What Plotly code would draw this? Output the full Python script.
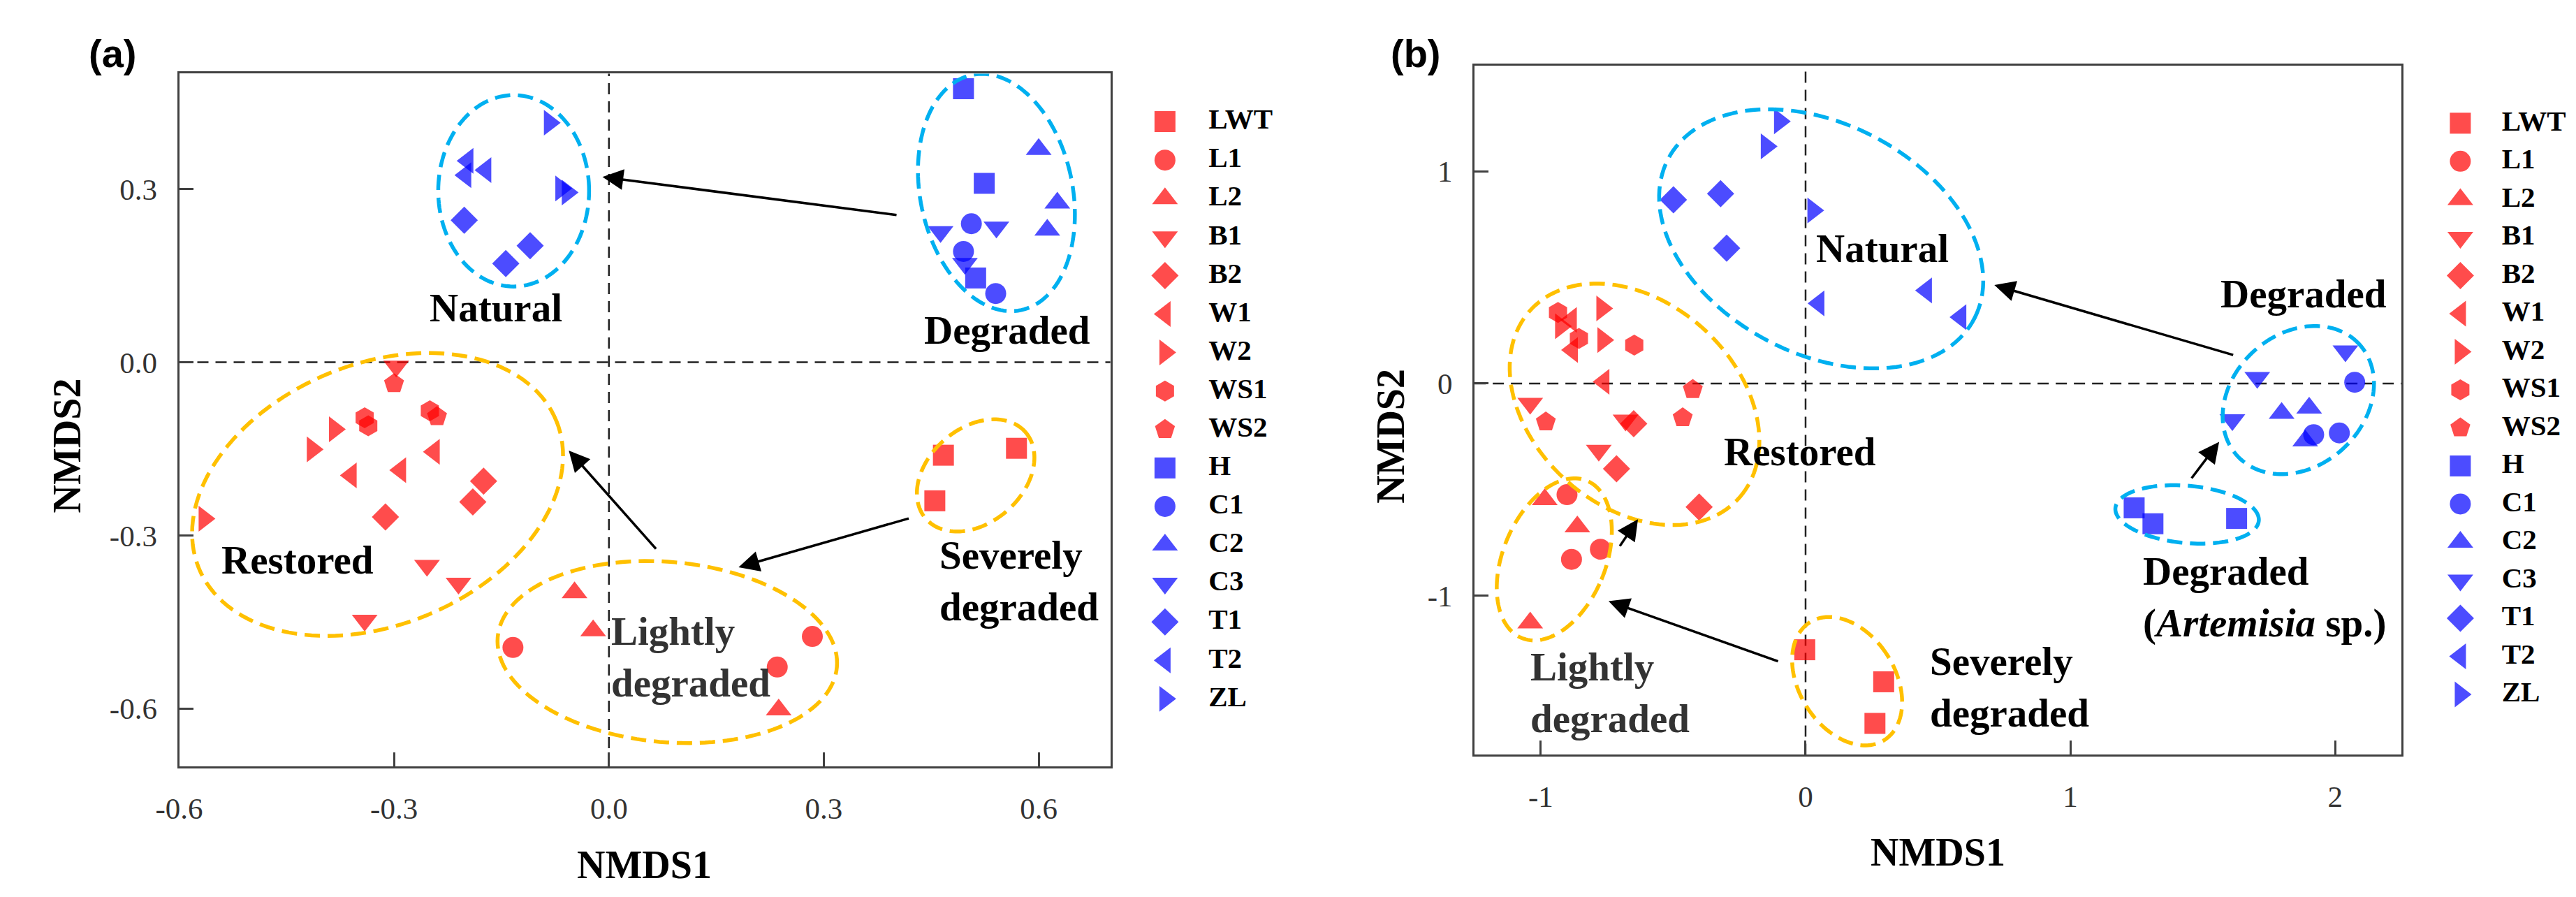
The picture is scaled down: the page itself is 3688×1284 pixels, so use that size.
import math
import plotly.graph_objects as go

W, H = 3688, 1284

# ---------------- categories / styling per category ----------------
SERIES = ["LWT", "L1", "L2", "B1", "B2", "W1", "W2", "WS1", "WS2",
          "H", "C1", "C2", "C3", "T1", "T2", "ZL"]
SYMBOLS = ["square", "circle", "triangle-up", "triangle-down", "diamond",
           "triangle-left", "triangle-right", "hexagon", "pentagon",
           "square", "circle", "triangle-up", "triangle-down", "diamond",
           "triangle-left", "triangle-right"]
COLORS = ["#ff0000"] * 9 + ["#0000ff"] * 7

# ---------------- panel (a) NMDS scores: [x list], [y list] ----------------
A_LWT = [[0.467, 0.569, 0.455], [-0.161, -0.149, -0.240]]
A_L1 = [[-0.134, 0.284, 0.235], [-0.494, -0.475, -0.528]]
A_L2 = [[-0.048, -0.022, 0.237], [-0.399, -0.465, -0.602]]
A_B1 = [[-0.297, -0.254, -0.210, -0.341], [-0.007, -0.352, -0.383, -0.447]]
A_B2 = [[-0.175, -0.190, -0.312], [-0.206, -0.242, -0.268]]
A_W1 = [[-0.360, -0.291, -0.244], [-0.196, -0.187, -0.155]]
A_W2 = [[-0.383, -0.414, -0.565], [-0.116, -0.151, -0.271]]
A_WS1 = [[-0.341, -0.336, -0.250], [-0.096, -0.110, -0.084]]
A_WS2 = [[-0.300, -0.240], [-0.037, -0.094]]
A_H = [[0.495, 0.524, 0.512], [0.474, 0.310, 0.146]]
A_C1 = [[0.506, 0.495, 0.540], [0.240, 0.192, 0.119]]
A_C2 = [[0.600, 0.626, 0.612], [0.369, 0.276, 0.229]]
A_C3 = [[0.463, 0.541, 0.497], [0.226, 0.234, 0.171]]
A_T1 = [[-0.202, -0.144, -0.110], [0.246, 0.171, 0.202]]
A_T2 = [[-0.197, -0.200, -0.172], [0.349, 0.324, 0.333]]
A_ZL = [[-0.083, -0.067, -0.058], [0.415, 0.301, 0.294]]

# ---------------- panel (b) NMDS scores ----------------
B_LWT = [[-0.003, 0.295, 0.262], [-1.255, -1.406, -1.602]]
B_L1 = [[-0.901, -0.775, -0.884], [-0.524, -0.781, -0.829]]
B_L2 = [[-0.985, -0.862, -1.040], [-0.547, -0.675, -1.128]]
B_B1 = [[-1.040, -0.680, -0.781], [-0.094, -0.173, -0.315]]
B_B2 = [[-0.649, -0.714, -0.402], [-0.189, -0.402, -0.582]]
B_W1 = [[-0.885, -0.881, -0.762], [0.300, 0.158, 0.008]]
B_W2 = [[-0.925, -0.765, -0.769], [0.270, 0.205, 0.354]]
B_WS1 = [[-0.935, -0.856, -0.647], [0.335, 0.212, 0.181]]
B_WS2 = [[-0.426, -0.981, -0.464], [-0.028, -0.181, -0.161]]
B_H = [[1.241, 1.312, 1.628], [-0.586, -0.661, -0.636]]
B_C1 = [[2.074, 1.919, 2.016], [0.006, -0.241, -0.233]]
B_C2 = [[1.798, 1.902, 1.887], [-0.140, -0.115, -0.270]]
B_C3 = [[2.039, 1.706, 1.612], [0.153, 0.028, -0.171]]
B_T1 = [[-0.499, -0.321, -0.298], [0.866, 0.895, 0.638]]
B_T2 = [[0.050, 0.456, 0.586], [0.378, 0.439, 0.313]]
B_ZL = [[-0.098, -0.148, 0.028], [1.236, 1.118, 0.816]]

# ---------------- ticks ----------------
A_XTICKS = [-0.6, -0.3, 0.0, 0.3, 0.6]
A_XTICKTEXT = ["-0.6", "-0.3", "0.0", "0.3", "0.6"]
A_YTICKS = [-0.6, -0.3, 0.0, 0.3]
A_YTICKTEXT = ["-0.6", "-0.3", "0.0", "0.3"]
B_XTICKS = [-1, 0, 1, 2]
B_XTICKTEXT = ["-1", "0", "1", "2"]
B_YTICKS = [-1, 0, 1]
B_YTICKTEXT = ["-1", "0", "1"]

PANEL_A = {"LWT": A_LWT, "L1": A_L1, "L2": A_L2, "B1": A_B1, "B2": A_B2,
           "W1": A_W1, "W2": A_W2, "WS1": A_WS1, "WS2": A_WS2, "H": A_H,
           "C1": A_C1, "C2": A_C2, "C3": A_C3, "T1": A_T1, "T2": A_T2, "ZL": A_ZL}
PANEL_B = {"LWT": B_LWT, "L1": B_L1, "L2": B_L2, "B1": B_B1, "B2": B_B2,
           "W1": B_W1, "W2": B_W2, "WS1": B_WS1, "WS2": B_WS2, "H": B_H,
           "C1": B_C1, "C2": B_C2, "C3": B_C3, "T1": B_T1, "T2": B_T2, "ZL": B_ZL}

# ---------------- layout geometry (pixels) ----------------
A_XPX = (216.5, 1562.0); A_YPX = (97.4, 1089.0)
B_XPX = (2088.4, 3427.5); B_YPX = (85.5, 1072.4)
A_XR = [-0.6, 0.7]; A_YR = [-0.7, 0.5]
B_XR = [-1.25, 2.25]; B_YR = [-1.75, 1.5]

def xdom(px):
    return [px[0] / W, px[1] / W]

def ydom(px):
    return [1 - px[1] / H, 1 - px[0] / H]

A_SX = (A_XPX[1] - A_XPX[0]) / (A_XR[1] - A_XR[0])
A_SY = (A_YPX[1] - A_YPX[0]) / (A_YR[1] - A_YR[0])
B_SX = (B_XPX[1] - B_XPX[0]) / (B_XR[1] - B_XR[0])
B_SY = (B_YPX[1] - B_YPX[0]) / (B_YR[1] - B_YR[0])

def msize(sym):
    return 32 if sym.startswith("triangle") else 30

MSIZES = [msize(s) for s in SYMBOLS]
fig = go.Figure()

for panel, xa, ya in ((PANEL_A, "x", "y"), (PANEL_B, "x2", "y2")):
    for i, s in enumerate(SERIES):
        xs, ys = panel[s]
        fig.add_trace(go.Scatter(
            x=xs, y=ys, mode="markers", name=s, showlegend=False,
            xaxis=xa, yaxis=ya, hoverinfo="skip",
            marker=dict(symbol=SYMBOLS[i], size=MSIZES[i], color=COLORS[i],
                        opacity=0.7, line=dict(width=0))))

# custom legends (one per panel) on hidden helper axes
for xa, ya in (("x3", "y3"), ("x4", "y4")):
    idx = list(range(len(SERIES)))
    fig.add_trace(go.Scatter(
        x=[0] * len(SERIES), y=idx, mode="markers", showlegend=False,
        xaxis=xa, yaxis=ya, hoverinfo="skip", cliponaxis=False,
        marker=dict(symbol=SYMBOLS, size=MSIZES, color=COLORS, opacity=0.7,
                    line=dict(width=0))))
    fig.add_trace(go.Scatter(
        x=[1] * len(SERIES), y=idx, mode="text", text=SERIES,
        textposition="middle right", showlegend=False,
        xaxis=xa, yaxis=ya, hoverinfo="skip", cliponaxis=False,
        textfont=dict(family="Liberation Serif", size=41, color="black",
                      weight="bold")))

axis_style = dict(showline=True, linecolor="#404040", linewidth=3, mirror=True,
                  ticks="inside", ticklen=20, tickwidth=3, tickcolor="#404040",
                  showgrid=False, zeroline=False, ticklabelstandoff=20,
                  tickfont=dict(family="Liberation Serif", size=43, color="#333333"))

LEG_A_Y = (166.0 - 27.5, 992.4 + 27.5)
LEG_B_Y = (168.4 - 27.3, 986.0 + 27.3)

fig.update_layout(
    width=W, height=H, margin=dict(l=0, r=0, t=0, b=0),
    paper_bgcolor="white", plot_bgcolor="white", showlegend=False,
    xaxis=dict(domain=xdom(A_XPX), range=A_XR, tickvals=A_XTICKS,
               ticktext=A_XTICKTEXT, anchor="y", **axis_style),
    yaxis=dict(domain=ydom(A_YPX), range=A_YR, tickvals=A_YTICKS,
               ticktext=A_YTICKTEXT, anchor="x", **axis_style),
    xaxis2=dict(domain=xdom(B_XPX), range=B_XR, tickvals=B_XTICKS,
                ticktext=B_XTICKTEXT, anchor="y2", **axis_style),
    yaxis2=dict(domain=ydom(B_YPX), range=B_YR, tickvals=B_YTICKS,
                ticktext=B_YTICKTEXT, anchor="x2", **axis_style),
    xaxis3=dict(domain=xdom((1641.0, 1704.0)), range=[0, 1], visible=False,
                anchor="y3", fixedrange=True),
    yaxis3=dict(domain=ydom(LEG_A_Y), range=[15.5, -0.5], visible=False,
                anchor="x3", fixedrange=True),
    xaxis4=dict(domain=xdom((3512.8, 3572.7)), range=[0, 1], visible=False,
                anchor="y4", fixedrange=True),
    yaxis4=dict(domain=ydom(LEG_B_Y), range=[15.5, -0.5], visible=False,
                anchor="x4", fixedrange=True),
)

shapes = []
# reference dashed lines at 0
for xr, yr in (("x", "y"), ("x2", "y2")):
    shapes.append(dict(type="line", xref=xr, yref=yr + " domain", x0=0, x1=0,
                       y0=0, y1=1, layer="below",
                       line=dict(color="#222222", width=2.5, dash="16px,10px")))
    shapes.append(dict(type="line", xref=xr + " domain", yref=yr, x0=0, x1=1,
                       y0=0, y1=0, layer="below",
                       line=dict(color="#222222", width=2.5, dash="16px,10px")))

BLUE_RING = "#00b0f0"
GOLD_RING = "#ffc000"
# ellipses: center x, center y, semi-axis a (px), semi-axis b (px), angle (deg), colour
A_RINGS = [(-0.133, 0.297, 109, 137, 0, BLUE_RING),
           (0.541, 0.294, 110, 172, 12, BLUE_RING),
           (-0.323, -0.229, 279, 187, 22, GOLD_RING),
           (0.0815, -0.502, 246, 129, -5, GOLD_RING),
           (0.512, -0.196, 95, 68, 40, GOLD_RING)]
B_RINGS = [(0.059, 0.682, 249, 165, -27, BLUE_RING),
           (1.861, -0.078, 119, 95, 41, BLUE_RING),
           (1.441, -0.617, 104, 41, -5, BLUE_RING),
           (-0.646, -0.098, 202, 147, -41, GOLD_RING),
           (-0.949, -0.829, 74, 122, -23, GOLD_RING),
           (0.157, -1.403, 69, 100, 33, GOLD_RING)]

def ring_path(cx, cy, a, b, ang, sx, sy, n=140):
    th = math.radians(ang)
    pts = []
    for k in range(n):
        t = 2 * math.pi * k / n
        dx = a * math.cos(t) * math.cos(th) - b * math.sin(t) * math.sin(th)
        dy = a * math.cos(t) * math.sin(th) + b * math.sin(t) * math.cos(th)
        pts.append(f"{cx + dx / sx:.5f},{cy + dy / sy:.5f}")
    return "M " + " L ".join(pts) + " Z"

for rings, xr, yr, sx, sy in ((A_RINGS, "x", "y", A_SX, A_SY),
                              (B_RINGS, "x2", "y2", B_SX, B_SY)):
    for cx, cy, a, b, ang, col in rings:
        shapes.append(dict(type="path", xref=xr, yref=yr,
                           path=ring_path(cx, cy, a, b, ang, sx, sy),
                           line=dict(color=col, width=5.5, dash="22px,11px")))
fig.update_layout(shapes=shapes)

annotations = []
# arrows: head x, head y, tail x, tail y
A_ARROWS = [(-0.009, 0.321, 0.403, 0.255),
            (-0.056, -0.153, 0.067, -0.325),
            (0.181, -0.355, 0.420, -0.270)]
B_ARROWS = [(0.713, 0.464, 1.619, 0.133),
            (1.562, -0.275, 1.455, -0.451),
            (-0.744, -1.026, -0.100, -1.311),
            (-0.633, -0.640, -0.704, -0.771)]
for arrows, xr, yr in ((A_ARROWS, "x", "y"), (B_ARROWS, "x2", "y2")):
    for hx, hy, tx, ty in arrows:
        annotations.append(dict(x=hx, y=hy, ax=tx, ay=ty, xref=xr, yref=yr,
                                axref=xr, ayref=yr, text="", showarrow=True,
                                arrowhead=2, arrowsize=1.7, arrowwidth=3.5,
                                arrowcolor="black", standoff=0, startstandoff=0))

LABEL_FONT = dict(family="Liberation Serif", size=57, color="black", weight="bold")
GRAY_FONT = dict(family="Liberation Serif", size=57, color="#333333", weight="bold")
# group labels: text, x, y, anchor, font
A_LABELS = [("Natural", -0.158, 0.094, "center", LABEL_FONT),
            ("Degraded", 0.556, 0.056, "center", LABEL_FONT),
            ("Restored", -0.435, -0.342, "center", LABEL_FONT),
            ("Lightly<br>degraded", 0.001, -0.510, "left", GRAY_FONT),
            ("Severely<br>degraded", 0.4595, -0.379, "left", LABEL_FONT)]
B_LABELS = [("Natural", 0.291, 0.638, "center", LABEL_FONT),
            ("Degraded", 1.882, 0.422, "center", LABEL_FONT),
            ("Restored", -0.020, -0.322, "center", LABEL_FONT),
            ("Lightly<br>degraded", -1.044, -1.457, "left", GRAY_FONT),
            ("Severely<br>degraded", 0.464, -1.431, "left", LABEL_FONT),
            ("Degraded<br>(<i>Artemisia</i> sp.)", 1.268, -1.008, "left", LABEL_FONT)]
for labels, xr, yr in ((A_LABELS, "x", "y"), (B_LABELS, "x2", "y2")):
    for txt, lx, ly, anc, fnt in labels:
        annotations.append(dict(x=lx, y=ly, xref=xr, yref=yr, text=txt,
                                showarrow=False, xanchor=anc, yanchor="middle",
                                align=anc, font=fnt))

TITLE_FONT = dict(family="Liberation Serif", size=56, color="black", weight="bold")
for txt, px, py, ang in (("NMDS1", 889, 1230, 0), ("NMDS1", 2757.5, 1211.5, 0),
                         ("NMDS2", 55, 630, -90), ("NMDS2", 1967, 616, -90)):
    annotations.append(dict(x=px / W, y=1 - py / H, xref="paper", yref="paper",
                            text=txt, showarrow=False, xanchor="center",
                            yanchor="middle", textangle=ang, font=TITLE_FONT))
for txt, px, py in (("(a)", 120, 68), ("(b)", 2003, 68)):
    annotations.append(dict(x=px / W, y=1 - py / H, xref="paper", yref="paper",
                            text=txt, showarrow=False, xanchor="center",
                            yanchor="middle",
                            font=dict(family="Liberation Sans", size=56,
                                      color="black", weight="bold")))
fig.update_layout(annotations=annotations)

fig.write_html("out.html")
